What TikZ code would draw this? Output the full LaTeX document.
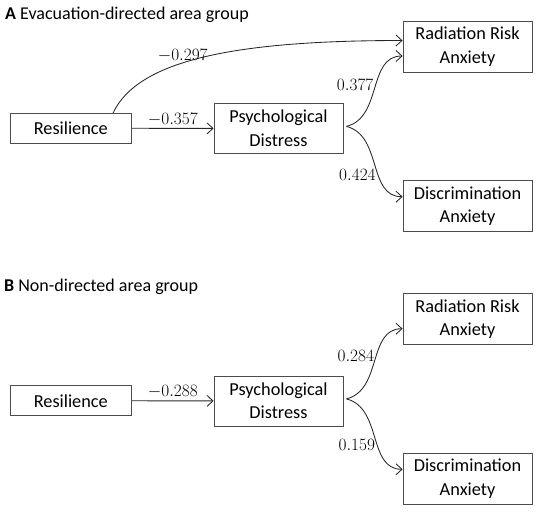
\documentclass[tikz,border=0pt]{standalone}
\usepackage{fontspec}
\newfontfamily\boxfont{Carlito}
\usetikzlibrary{positioning,arrows.meta}
\tikzset{
  var/.style  ={draw=black!70, line width=0.8pt, rectangle, align=center, inner sep=0pt, font=\boxfont\fontsize{18.3}{23.5}\selectfont},
  coef/.style ={font=\fontsize{16.5}{20}\selectfont, inner sep=2pt},
  arr/.style  ={-{Straight Barb[length=6pt,width=11pt]}, line width=0.85pt, draw=black!85},
  ttl/.style  ={anchor=base west, inner sep=0pt, font=\boxfont\fontsize{18}{22}\selectfont},
}

\begin{document}
\begin{tikzpicture}[x=1pt, y=-1pt]
  \useasboundingbox (0,0) rectangle (536,512);

  % A: evacuation-directed area
  \node[ttl] (ttlA) at (5,19.3) {\textbf{A} Evacuation-directed area group};
  \node[var, minimum width=121.7pt, minimum height=30pt] (resA) at (70.8,128.3) {Resilience};
  \node[var, minimum width=129pt, minimum height=50pt] (psyA) at (278.5,128.4) {Psychological\\Distress};
  \node[var, minimum width=129pt, minimum height=51pt] (radA) at (467.5,46.5) {Radiation Risk\\Anxiety};
  \node[var, minimum width=129pt, minimum height=51pt] (disA) at (467.5,206.2) {Discrimination\\Anxiety};

  \draw[arr] (resA.east) -- (psyA.west) node[coef, midway, above] (cA1) {$-0.357$};
  \draw[arr] (resA.20) .. controls +(25,-53) and +(-167,0) .. ([yshift=6pt]radA.west)
    node[coef, pos=0.42, above, yshift=-2pt] (cA2) {$-0.297$};
  \draw[arr] ([xshift=3pt,yshift=2pt]psyA.east) .. controls +(36,-9) and +(-35,0) .. ([yshift=-9.5pt]radA.west)
    node[coef, pos=0.53, left] (cA3) {$0.377$};
  \draw[arr] ([xshift=3pt,yshift=2pt]psyA.east) .. controls +(36,9) and +(-35,0) .. ([yshift=9.5pt]disA.west)
    node[coef, pos=0.6, left] (cA4) {$0.424$};

  % B: non-directed area
  \node[ttl] (ttlB) at (4,291.8) {\textbf{B} Non-directed area group};
  \node[var, minimum width=121.7pt, minimum height=30pt] (resB) at (70.8,400.8) {Resilience};
  \node[var, minimum width=129pt, minimum height=50pt] (psyB) at (278.5,400.9) {Psychological\\Distress};
  \node[var, minimum width=129pt, minimum height=51pt] (radB) at (467.5,319.2) {Radiation Risk\\Anxiety};
  \node[var, minimum width=129pt, minimum height=51pt] (disB) at (467.5,478.8) {Discrimination\\Anxiety};

  \draw[arr] (resB.east) -- (psyB.west) node[coef, midway, above] (cB1) {$-0.288$};
  \draw[arr] ([xshift=3pt,yshift=2pt]psyB.east) .. controls +(36,-9) and +(-35,0) .. ([yshift=-9.5pt]radB.west)
    node[coef, pos=0.55, left] (cB2) {$0.284$};
  \draw[arr] ([xshift=3pt,yshift=2pt]psyB.east) .. controls +(36,9) and +(-35,0) .. ([yshift=9.5pt]disB.west)
    node[coef, pos=0.58, left] (cB3) {$0.159$};
\end{tikzpicture}
\end{document}
